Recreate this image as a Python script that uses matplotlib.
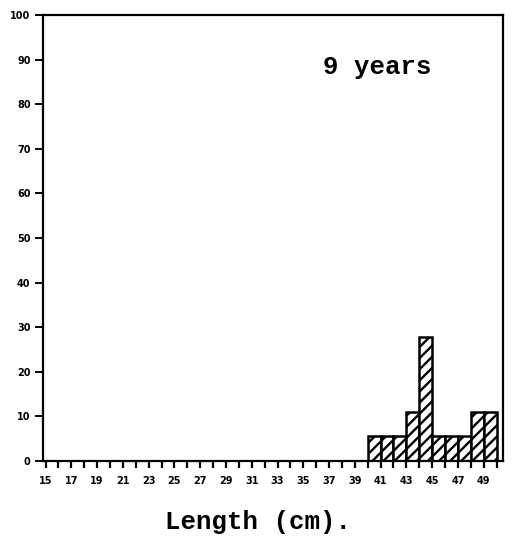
import matplotlib
matplotlib.use("Agg")
import matplotlib.pyplot as plt
import numpy as np

# Length classes (cm) and percentage frequency for age 9
lengths = [40, 41, 42, 43, 44, 45, 46, 47, 48, 49]
percent = [5.6, 5.6, 5.6, 11.1, 27.8, 5.6, 5.6, 5.6, 11.1, 11.1]

x_labels = [str(v) for v in range(15, 50, 2)]
y_ticks = list(range(0, 101, 10))
panel_title = "9 years"
x_title = "Length (cm)."

plt.rcParams["hatch.linewidth"] = 1.7
plt.rcParams["hatch.color"] = "black"

fig = plt.figure(figsize=(5.14, 5.45), dpi=100)
ax = fig.add_axes([0.0837, 0.1541, 0.8949, 0.8184])

ax.bar(lengths, percent, width=1.0, align="edge", facecolor="white",
       edgecolor="black", linewidth=1.8, hatch="///")

ax.set_xlim(14.8, 50.5)
ax.set_ylim(0, 100)

ax.set_xticks(range(15, 51), minor=True)
ax.set_xticks(range(15, 50, 2))
ax.set_xticklabels(x_labels)
ax.set_yticks(y_ticks)
ax.set_yticklabels([str(v) for v in y_ticks])

for s in ax.spines.values():
    s.set_linewidth(1.6)

ax.tick_params(axis="x", which="both", direction="out", length=5, width=1.6,
               pad=6, labelsize=7)
ax.tick_params(axis="y", direction="out", length=6, width=1.4, pad=3,
               labelsize=7)
for lab in ax.get_xticklabels() + ax.get_yticklabels():
    lab.set_fontweight("bold")

ax.text(0.726, 0.883, panel_title, transform=ax.transAxes, ha="center",
        va="center", fontsize=18.5, fontweight="bold", family="Liberation Mono")
fig.text(0.502, 0.043, x_title, ha="center", va="center", fontsize=18.5,
         fontweight="bold", family="Liberation Mono")

fig.savefig("out.png", dpi=100)
